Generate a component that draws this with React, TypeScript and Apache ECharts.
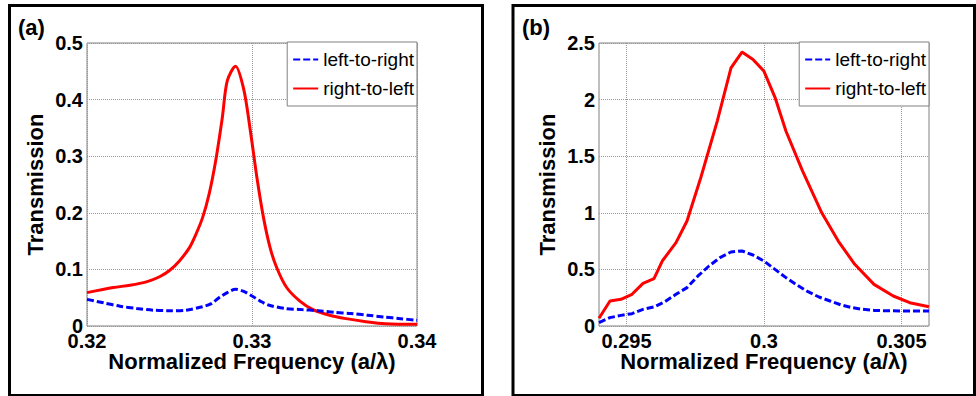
import React, { useEffect, useRef } from "react";
import * as echarts from "echarts";

// Panel (a)
const freqA_rtl = [0.320, 0.3216, 0.3226, 0.3236, 0.3244, 0.325, 0.3256, 0.3262, 0.3266, 0.327, 0.3274, 0.3278, 0.3282, 0.3285, 0.329, 0.3295, 0.3299, 0.3303, 0.3307, 0.3311, 0.3315, 0.3321, 0.3329, 0.3337, 0.3347, 0.3357, 0.3369, 0.3381, 0.340];
const transA_rtl = [0.059, 0.068, 0.072, 0.078, 0.087, 0.098, 0.115, 0.138, 0.162, 0.191, 0.233, 0.292, 0.368, 0.433, 0.459, 0.418, 0.345, 0.262, 0.191, 0.138, 0.103, 0.068, 0.044, 0.029, 0.019, 0.013, 0.0077, 0.004, 0.003];
const freqA_ltr = [0.320, 0.321, 0.322, 0.323, 0.324, 0.325, 0.326, 0.327, 0.3275, 0.328, 0.3285, 0.329, 0.3295, 0.330, 0.3305, 0.331, 0.332, 0.333, 0.334, 0.335, 0.336, 0.337, 0.338, 0.339, 0.340];
const transA_ltr = [0.047, 0.041, 0.035, 0.031, 0.028, 0.027, 0.028, 0.034, 0.039, 0.050, 0.059, 0.065, 0.061, 0.053, 0.044, 0.037, 0.031, 0.029, 0.027, 0.024, 0.022, 0.019, 0.016, 0.013, 0.010];

// Panel (b)
const freqB_rtl = [0.294, 0.2944, 0.2948, 0.2952, 0.2956, 0.296, 0.2963, 0.2968, 0.2972, 0.2977, 0.2983, 0.2988, 0.2992, 0.2996, 0.300, 0.3004, 0.3008, 0.3014, 0.3021, 0.3027, 0.3033, 0.304, 0.3047, 0.3053, 0.306];
const transB_rtl = [0.068, 0.221, 0.236, 0.28, 0.377, 0.418, 0.574, 0.736, 0.928, 1.31, 1.81, 2.28, 2.42, 2.355, 2.25, 2.02, 1.72, 1.37, 1.0, 0.75, 0.545, 0.368, 0.265, 0.206, 0.17];
const freqB_ltr = [0.294, 0.2944, 0.2948, 0.2952, 0.2956, 0.296, 0.2964, 0.2968, 0.2972, 0.2976, 0.298, 0.2984, 0.2988, 0.2992, 0.2996, 0.300, 0.3004, 0.3008, 0.3012, 0.3016, 0.302, 0.3024, 0.3028, 0.3032, 0.3036, 0.304, 0.3045, 0.305, 0.306];
const transB_ltr = [0.03, 0.074, 0.094, 0.109, 0.147, 0.168, 0.215, 0.28, 0.339, 0.442, 0.53, 0.604, 0.654, 0.663, 0.627, 0.574, 0.50, 0.427, 0.362, 0.303, 0.256, 0.221, 0.186, 0.162, 0.147, 0.138, 0.134, 0.133, 0.133];

const xTicksB = [0.295, 0.3, 0.305];
const seriesNames = ["left-to-right", "right-to-left"];
const panelLabels = ["(a)", "(b)"];
const xTitle = "Normalized Frequency (a/λ)";
const yTitle = "Transmission";

const FONT = "Liberation Sans, Arial, Helvetica, sans-serif";

const zip = (xs: number[], ys: number[]) => xs.map((x, i) => [x, ys[i]]);
const fmt = (v: number) => String(+v.toFixed(4));

export default function App() {
  const ref = useRef<HTMLDivElement>(null);
  useEffect(() => {
    if (!ref.current) return;
    const chart = echarts.init(ref.current, undefined, { renderer: "svg" });

    const gridLine = { show: true, lineStyle: { color: "#999", type: "dotted" as const, width: 1 } };
    const axisLabel = { color: "#000", fontSize: 20, lineHeight: 14, fontWeight: "bold" as const, fontFamily: FONT, formatter: fmt };
    const nameStyle = { color: "#000", fontSize: 22, lineHeight: 18, fontWeight: "bold" as const, fontFamily: FONT };

    const xBase = {
      type: "value" as const,
      name: xTitle,
      nameLocation: "middle" as const,
      nameGap: 26,
      nameMoveOverlap: false,
      nameTextStyle: nameStyle,
      axisLine: { show: false },
      axisTick: { show: false },
      splitLine: gridLine,
    };
    const yBase = {
      type: "value" as const,
      name: yTitle,
      nameLocation: "middle" as const,
      nameGap: 43,
      nameMoveOverlap: false,
      nameTextStyle: nameStyle,
      axisLine: { show: false },
      axisTick: { show: false },
      splitLine: gridLine,
      axisLabel: { ...axisLabel, margin: 4 },
    };

    const blueStyle = { color: "#0000ff", width: 3, type: [7, 3] as any };
    const redStyle = { color: "#ff0000", width: 3, type: "solid" as const };

    const legendBase = {
      orient: "vertical" as const,
      top: 42,
      itemWidth: 25,
      itemHeight: 14,
      itemGap: 10,
      padding: [8, 3, 8, 5],
      borderColor: "#808080",
      borderWidth: 1,
      backgroundColor: "#fff",
      selectedMode: false,
      itemStyle: { opacity: 0, borderWidth: 0 },
      textStyle: { fontSize: 19, color: "#000", fontFamily: FONT },
      data: seriesNames,
    };

    chart.setOption({
      animation: false,
      backgroundColor: "#fff",
      grid: [
        { left: 87, top: 43, width: 330, height: 283, show: true, borderColor: "#808080", borderWidth: 1, backgroundColor: "transparent" },
        { left: 599, top: 43, width: 330, height: 283, show: true, borderColor: "#808080", borderWidth: 1, backgroundColor: "transparent" },
      ],
      xAxis: [
        { ...xBase, gridIndex: 0, min: 0.32, max: 0.34, interval: 0.01, axisLabel: { ...axisLabel, margin: 8 } },
        {
          ...xBase,
          gridIndex: 1,
          min: 0.294,
          max: 0.306,
          axisTick: { show: false, customValues: xTicksB },
          axisLabel: { ...axisLabel, margin: 8, customValues: xTicksB },
        },
      ],
      yAxis: [
        { ...yBase, gridIndex: 0, min: 0, max: 0.5, interval: 0.1 },
        { ...yBase, gridIndex: 1, min: 0, max: 2.5, interval: 0.5 },
      ],
      legend: [
        { ...legendBase, right: 976 - 417 },
        { ...legendBase, right: 976 - 929 },
      ],
      series: [
        { name: seriesNames[0], type: "line", xAxisIndex: 0, yAxisIndex: 0, data: zip(freqA_ltr, transA_ltr), showSymbol: false, symbol: "none", smooth: 0.3, lineStyle: blueStyle, itemStyle: { color: "#0000ff" }, z: 3 },
        { name: seriesNames[1], type: "line", xAxisIndex: 0, yAxisIndex: 0, data: zip(freqA_rtl, transA_rtl), showSymbol: false, symbol: "none", smooth: 0.3, lineStyle: redStyle, itemStyle: { color: "#ff0000" }, z: 2 },
        { name: seriesNames[0], type: "line", xAxisIndex: 1, yAxisIndex: 1, data: zip(freqB_ltr, transB_ltr), showSymbol: false, symbol: "none", lineStyle: blueStyle, itemStyle: { color: "#0000ff" }, z: 3 },
        { name: seriesNames[1], type: "line", xAxisIndex: 1, yAxisIndex: 1, data: zip(freqB_rtl, transB_rtl), showSymbol: false, symbol: "none", lineStyle: redStyle, itemStyle: { color: "#ff0000" }, z: 2 },
      ],
      graphic: [
        { type: "rect", shape: { x: 9.5, y: 5.5, width: 473, height: 390 }, style: { fill: "none", stroke: "#000", lineWidth: 3 }, silent: true },
        { type: "rect", shape: { x: 513, y: 5.5, width: 461.5, height: 390 }, style: { fill: "none", stroke: "#000", lineWidth: 3 }, silent: true },
        { type: "text", x: 18, y: 16, style: { text: panelLabels[0], font: `bold 22px ${FONT}`, fill: "#000", verticalAlign: "top" } },
        { type: "text", x: 522, y: 16, style: { text: panelLabels[1], font: `bold 22px ${FONT}`, fill: "#000", verticalAlign: "top" } },
      ],
    });
    return () => chart.dispose();
  }, []);
  return <div ref={ref} style={{ position: "fixed", left: 0, top: 0, width: 976, height: 396 }} />;
}
